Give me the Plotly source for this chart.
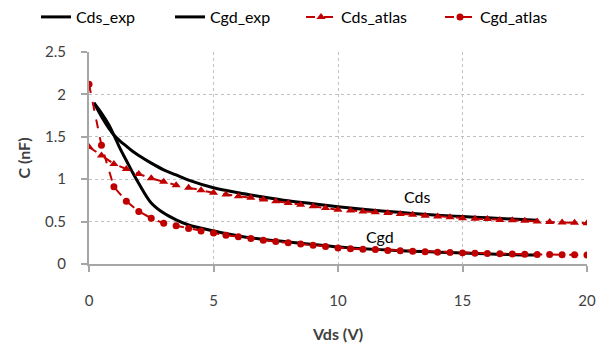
import plotly.graph_objects as go

# Experimental curves
vds_exp = [0.2, 0.5, 0.8, 1.0, 1.25, 1.5, 1.75, 2.0, 2.5, 3.0, 3.5, 4.0, 5.0, 6.0, 7.0, 8.0, 9.0, 10.0, 11.0, 12.0, 13.0, 14.0, 15.0, 16.0, 17.0, 18.0]
cds_exp = [1.9, 1.74, 1.6, 1.52, 1.45, 1.39, 1.33, 1.28, 1.19, 1.11, 1.05, 0.99, 0.9, 0.84, 0.79, 0.745, 0.71, 0.675, 0.645, 0.62, 0.595, 0.575, 0.56, 0.545, 0.53, 0.515]
cgd_exp = [1.9, 1.78, 1.64, 1.52, 1.36, 1.22, 1.08, 0.95, 0.72, 0.6, 0.52, 0.46, 0.39, 0.33, 0.29, 0.26, 0.23, 0.2, 0.18, 0.165, 0.15, 0.14, 0.13, 0.12, 0.11, 0.105]

# Simulation (Atlas) curves, 0 to 20 V in 0.5 V steps
vds_atlas = [i * 0.5 for i in range(41)]
cds_atlas = [1.38, 1.28, 1.18, 1.12, 1.06, 1.01, 0.97, 0.93, 0.90, 0.87,
             0.84, 0.82, 0.80, 0.78, 0.76, 0.74, 0.72, 0.70, 0.68, 0.66,
             0.64, 0.63, 0.62, 0.61, 0.60, 0.59, 0.58, 0.57, 0.56, 0.55,
             0.54, 0.535, 0.53, 0.52, 0.515, 0.51, 0.50, 0.495, 0.49, 0.485, 0.48]
cgd_atlas = [2.12, 1.40, 0.91, 0.74, 0.62, 0.54, 0.48, 0.45, 0.42, 0.39,
             0.365, 0.34, 0.32, 0.30, 0.28, 0.265, 0.25, 0.235, 0.22, 0.205,
             0.19, 0.18, 0.175, 0.17, 0.16, 0.155, 0.15, 0.145, 0.14, 0.135,
             0.13, 0.127, 0.124, 0.121, 0.118, 0.115, 0.113, 0.111, 0.11, 0.108, 0.105]

x_ticks = [0, 5, 10, 15, 20]
y_ticks = [0, 0.5, 1, 1.5, 2, 2.5]
y_tick_text = ["0", "0.5", "1", "1.5", "2", "2.5"]

FONT = "Lato, 'Open Sans', sans-serif"
RED = "#C00000"

fig = go.Figure()
fig.add_trace(go.Scatter(x=vds_exp, y=cds_exp, mode="lines", name="Cds_exp", legend="legend",
                         showlegend=True, line=dict(color="black", width=3, shape="spline")))
fig.add_trace(go.Scatter(x=vds_exp, y=cgd_exp, mode="lines", name="Cgd_exp", legend="legend2",
                         showlegend=True, line=dict(color="black", width=3, shape="spline")))
fig.add_trace(go.Scatter(x=vds_atlas, y=cds_atlas, mode="lines+markers", name="Cds_atlas", legend="legend3",
                         showlegend=True, line=dict(color=RED, width=2, dash="dash"),
                         marker=dict(symbol="triangle-up", size=8, color=RED)))
fig.add_trace(go.Scatter(x=vds_atlas, y=cgd_atlas, mode="lines+markers", name="Cgd_atlas", legend="legend4",
                         showlegend=True, line=dict(color=RED, width=2, dash="dash"),
                         marker=dict(symbol="circle", size=7, color=RED)))

fig.add_annotation(x=13.2, y=0.8, text="Cds", showarrow=False,
                   font=dict(family=FONT, size=16, color="black"))
fig.add_annotation(x=11.7, y=0.33, text="Cgd", showarrow=False,
                   font=dict(family=FONT, size=16, color="black"))


def leg(px):
    return dict(orientation="h", xref="container", yref="container",
                x=px / 596, y=1.0, xanchor="left", yanchor="top",
                font=dict(family=FONT, size=16, color="black"),
                bgcolor="rgba(0,0,0,0)", visible=True)


fig.update_layout(
    width=596, height=343,
    margin=dict(l=89, r=9, t=52, b=79, autoexpand=False),
    showlegend=True,
    paper_bgcolor="white", plot_bgcolor="white",
    font=dict(family=FONT, size=15, color="#404040"),
    legend=leg(36), legend2=leg(170), legend3=leg(301), legend4=leg(440),
    xaxis=dict(range=[0, 20], tickvals=x_ticks, showgrid=True, gridcolor="#c0c0c0",
               griddash="dot", gridwidth=1, showline=True, linecolor="#a6a6a6", linewidth=2,
               ticks="outside", ticklen=6, tickcolor="#a6a6a6", tickwidth=2,
               ticklabelstandoff=16, zeroline=False, automargin=False,
               title=dict(text="<b>Vds (V)</b>", font=dict(family=FONT, size=16, color="#404040"), standoff=21)),
    yaxis=dict(range=[0, 2.5], tickvals=y_ticks, ticktext=y_tick_text, showgrid=True,
               gridcolor="#c0c0c0", griddash="dot", gridwidth=1, showline=True,
               linecolor="#a6a6a6", linewidth=2, ticks="outside", ticklen=6,
               tickcolor="#a6a6a6", tickwidth=2, ticklabelstandoff=12, zeroline=False,
               automargin=False,
               title=dict(text="<b>C (nF)</b>", font=dict(family=FONT, size=16, color="#404040"), standoff=10)),
)

fig.write_html("out.html")
